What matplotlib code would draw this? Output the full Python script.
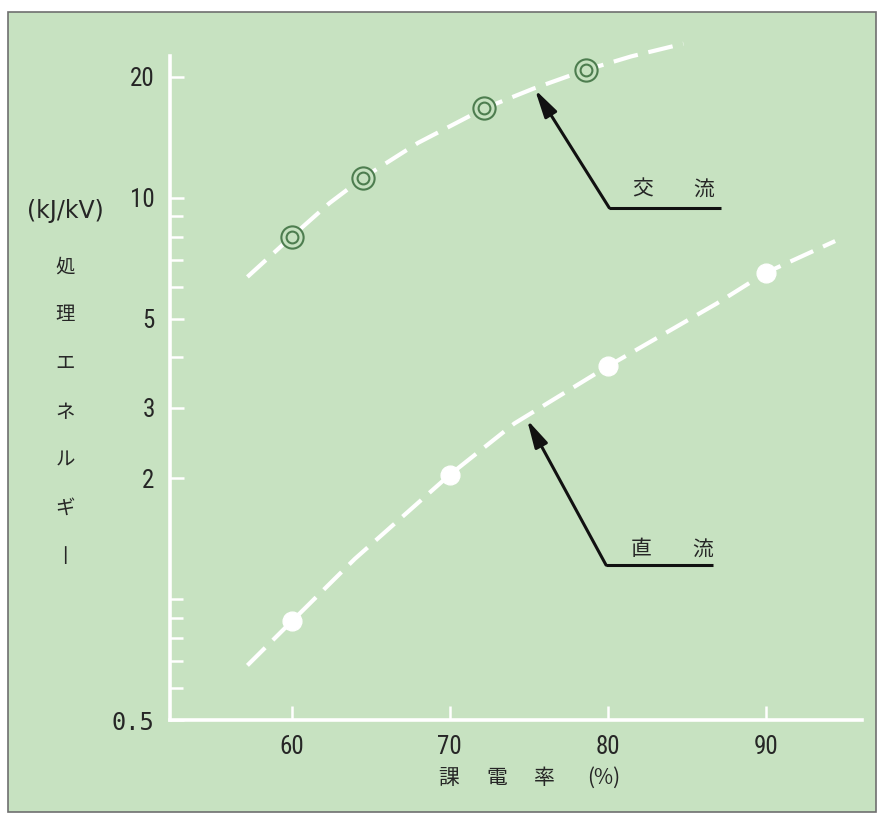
import matplotlib
matplotlib.use("Agg")
import matplotlib.pyplot as plt
from matplotlib import font_manager
from matplotlib.patches import Rectangle
from matplotlib.ticker import FixedLocator, FixedFormatter, NullFormatter

# 課電率 (%) と処理エネルギー (kJ/kV) の測定点
ac_rate = [60, 64.5, 72.2, 78.6]
ac_energy = [8.0, 11.2, 16.7, 20.8]
dc_rate = [60, 70, 80, 90]
dc_energy = [0.88, 2.04, 3.8, 6.5]

# 傾向線 (破線) の通過点
ac_curve_rate = [57.2, 60, 62.4, 64.5, 68.0, 72.2, 75.3, 78.6, 81.5, 84.8]
ac_curve_energy = [6.35, 8.0, 9.7, 11.2, 13.7, 16.7, 18.7, 20.8, 22.5, 24.2]
dc_curve_rate = [57.2, 60, 64, 70, 74.1, 80, 86.9, 90, 94.4]
dc_curve_energy = [0.684, 0.88, 1.26, 2.04, 2.74, 3.8, 5.45, 6.5, 7.8]

x_ticks = [60, 70, 80, 90]
x_tick_labels = ["60", "70", "80", "90"]
y_major = [0.5, 2, 3, 5, 10, 20]
y_major_labels = ["0.5", "2", "3", "5", "10", "20"]
y_minor = [0.6, 0.7, 0.8, 0.9, 1, 4, 6, 7, 8, 9]

y_label_unit = "(kJ/kV)"
y_label_chars = ["処", "理", "エ", "ネ", "ル", "ギ", "丨"]
x_label_parts = ["課", "電", "率", "(%)"]

BG = "#c7e2c1"
INK = "#262626"
RING = "#4d7d4f"
CJK = ["Noto Sans CJK JP", "DejaVu Sans"]

# 数字用の細身の書体
_installed = {f.name for f in font_manager.fontManager.ttflist}
NARROW = "Roboto"
for cand in ["Liberation Sans Narrow", "DejaVu Sans Condensed", "Roboto Condensed"]:
    if cand in _installed:
        NARROW = cand
        break

W, H = 885, 816
fig = plt.figure(figsize=(W / 100, H / 100), dpi=100, facecolor="white")

# 緑色の地と枠
frame = Rectangle((8 / W, 1 - 812 / H), (876 - 8) / W, (812 - 12) / H,
                  transform=fig.transFigure, facecolor=BG,
                  edgecolor="#6f6f6f", lw=1.2, zorder=-10)
fig.patches.append(frame)

ax = fig.add_axes([170 / W, 1 - 720 / H, (862 - 170) / W, (720 - 38) / H])
ax.set_zorder(5)
ax.set_facecolor("none")
ax.set_yscale("log")
ax.set_xlim(52.3, 96.1)
ax.set_ylim(0.5, 25)

for s in ["top", "right"]:
    ax.spines[s].set_visible(False)
for s in ["left", "bottom"]:
    ax.spines[s].set_color("white")
    ax.spines[s].set_linewidth(2.6)
ax.spines["left"].set_bounds(0.5, 22.6)

ax.xaxis.set_major_locator(FixedLocator(x_ticks))
ax.xaxis.set_major_formatter(FixedFormatter(x_tick_labels))
ax.yaxis.set_major_locator(FixedLocator(y_major))
ax.yaxis.set_major_formatter(FixedFormatter(y_major_labels))
ax.yaxis.set_minor_locator(FixedLocator(y_minor))
ax.yaxis.set_minor_formatter(NullFormatter())

ax.tick_params(axis="both", which="major", direction="in", color="white",
               width=1.8, length=10, pad=11, labelsize=18, labelcolor=INK)
ax.tick_params(axis="y", which="minor", direction="in", color="white",
               width=1.8, length=9)
for lab in ax.get_xticklabels() + ax.get_yticklabels():
    lab.set_family(NARROW)
# 0.5 は字間を広く
ax.get_yticklabels()[0].set_family("DejaVu Sans Mono")
ax.get_yticklabels()[0].set_fontsize(17)

# 破線の傾向線
dash = (6, 2.6)
ax.plot(ac_curve_rate, ac_curve_energy, color="white", lw=3, dashes=dash,
        clip_on=False, zorder=2)
ax.plot(dc_curve_rate, dc_curve_energy, color="white", lw=3, dashes=dash,
        clip_on=False, zorder=2)

# 交流: 二重丸
ax.plot(ac_rate, ac_energy, ls="none", marker="o", ms=16, mfc=BG, mec=RING,
        mew=1.5, zorder=4, clip_on=False)
ax.plot(ac_rate, ac_energy, ls="none", marker="o", ms=8.5, mfc="none", mec=RING,
        mew=1.5, zorder=5, clip_on=False)
# 直流: 白丸
ax.plot(dc_rate, dc_energy, ls="none", marker="o", ms=13.5, mfc="white",
        mec="white", zorder=4, clip_on=False)

# 引出線
arrow = dict(arrowstyle="-|>,head_length=1.2,head_width=0.3", lw=2.2,
             color="#111111", mutation_scale=14, shrinkA=0, shrinkB=0)
ax.annotate("", xy=(75.4, 18.6), xytext=(80.1, 9.44), arrowprops=arrow)
ax.plot([80.1, 87.2], [9.44, 9.44], color="#111111", lw=2.2, clip_on=False,
        solid_capstyle="butt")
ax.text(82.2, 10.5, "交", family=CJK, fontsize=15, color=INK, ha="center", va="center")
ax.text(86.1, 10.5, "流", family=CJK, fontsize=15, color=INK, ha="center", va="center")

ax.annotate("", xy=(74.9, 2.80), xytext=(79.9, 1.216), arrowprops=arrow)
ax.plot([79.9, 86.7], [1.216, 1.216], color="#111111", lw=2.2, clip_on=False,
        solid_capstyle="butt")
ax.text(82.1, 1.33, "直", family=CJK, fontsize=15, color=INK, ha="center", va="center")
ax.text(86.0, 1.33, "流", family=CJK, fontsize=15, color=INK, ha="center", va="center")

# 縦軸ラベル (縦書き)
fig.text(65 / W, 1 - 211 / H, y_label_unit, fontsize=17, color=INK,
         ha="center", va="center", family=["DejaVu Sans"])
for ch, py in zip(y_label_chars, [267, 315, 363, 413, 460, 508, 557]):
    fig.text(65 / W, 1 - py / H, ch, family=CJK, fontsize=14, color=INK,
             ha="center", va="center")

# 横軸ラベル
for part, px in zip(x_label_parts, [449, 497, 544, 604]):
    fig.text(px / W, 1 - 778 / H, part, family=CJK, fontsize=15, color=INK,
             ha="center", va="center")

fig.savefig("out.png", dpi=100, facecolor="white")
